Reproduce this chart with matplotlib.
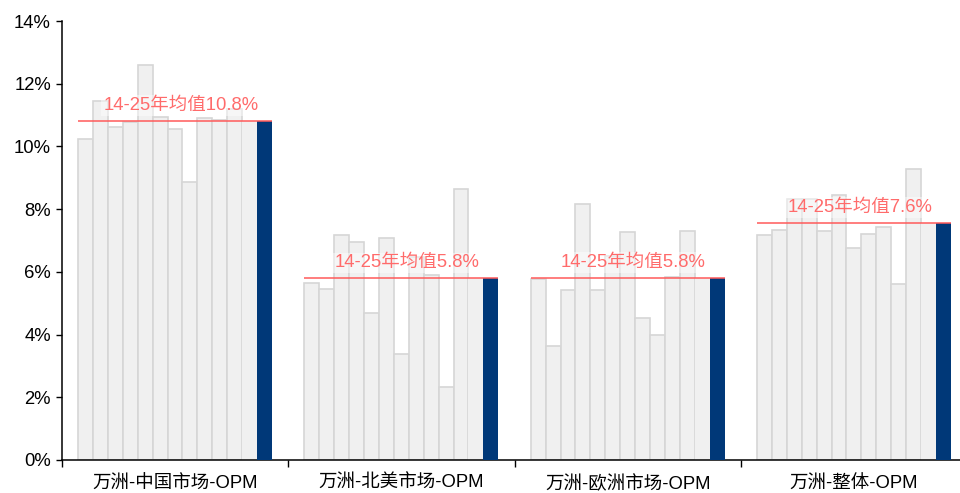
import matplotlib
matplotlib.use("Agg")
import matplotlib.pyplot as plt
from matplotlib.ticker import FuncFormatter, FixedLocator
import numpy as np

plt.rcParams['font.family'] = ['Liberation Sans', 'Noto Sans CJK SC']

categories = ["万洲-中国市场-OPM", "万洲-北美市场-OPM", "万洲-欧洲市场-OPM", "万洲-整体-OPM"]
years = list(range(2014, 2026))

# Operating margin (%) by year, 2014-2025
china_opm = [10.24, 11.45, 10.63, 10.79, 12.60, 10.93, 10.54, 8.85, 10.90, 10.85, 11.20, 10.81]
na_opm = [5.65, 5.45, 7.19, 6.96, 4.68, 7.09, 3.37, 6.48, 5.90, 2.34, 8.63, 5.79]
eu_opm = [5.78, 3.65, 5.43, 8.16, 5.41, 6.50, 7.26, 4.53, 4.00, 5.83, 7.29, 5.79]
total_opm = [7.19, 7.35, 8.31, 8.33, 7.31, 8.45, 6.77, 7.22, 7.44, 5.61, 9.27, 7.57]

series = [china_opm, na_opm, eu_opm, total_opm]
yticks = [0, 2, 4, 6, 8, 10, 12, 14]

fig = plt.figure(figsize=(9.6, 4.93), dpi=100)
ax = fig.add_axes([62 / 960, 33 / 493, 898 / 960, 439 / 493])

n_bars = len(years) + 1
bar_w = 0.0659
gray_fill = "#F0F0F0"
gray_edge = "#D6D6D6"
navy = "#003878"
red_line = "#FF5A5A"
red_text = "#FF6B6B"

for i, vals in enumerate(series):
    start = i - 0.429
    xs = start + (np.arange(n_bars) + 0.5) * bar_w
    # yearly bars
    ax.bar(xs[:-2], vals[:-1], width=bar_w, color=gray_fill,
           edgecolor=gray_edge, linewidth=1.2, zorder=2)
    ax.bar(xs[-2], vals[-1], width=bar_w, color=gray_fill,
           edgecolor="none", zorder=2)
    # latest year highlighted
    ax.bar(xs[-1], vals[-1], width=bar_w, color=navy, edgecolor="none", zorder=3)

    mean = float(np.mean(vals))
    ax.plot([start, start + n_bars * bar_w], [mean, mean], color=red_line,
            lw=1.1, zorder=4, solid_capstyle="butt")
    ax.annotate(f"14-25年均值{mean:.1f}%", xy=(i + 0.025, mean),
                xytext=(0, 5), textcoords="offset points",
                ha="center", va="bottom", fontsize=13.3, color=red_text,
                zorder=5,
                bbox=dict(boxstyle="square,pad=0.1", facecolor="white",
                          edgecolor="none", alpha=0.45))

ax.set_ylim(0, 14)
ax.set_xlim(-0.5, 3.468)
ax.set_yticks(yticks)
ax.yaxis.set_major_formatter(FuncFormatter(lambda v, _: f"{v:.0f}%"))
ax.tick_params(axis="y", direction="out", length=4, width=1, labelsize=13.3,
               pad=4, colors="black")

ax.xaxis.set_major_locator(FixedLocator([-0.5, 0.5, 1.5, 2.5]))
ax.xaxis.set_minor_locator(FixedLocator(range(len(categories))))
ax.set_xticklabels([], minor=False)
ax.set_xticklabels(categories, minor=True)
ax.tick_params(axis="x", which="major", direction="out", length=5, width=1)
ax.tick_params(axis="x", which="minor", length=0, labelsize=13.3, pad=11)

for side in ("top", "right"):
    ax.spines[side].set_visible(False)
for side in ("left", "bottom"):
    ax.spines[side].set_linewidth(1.1)
    ax.spines[side].set_color("black")

fig.savefig("out.png", dpi=100)
